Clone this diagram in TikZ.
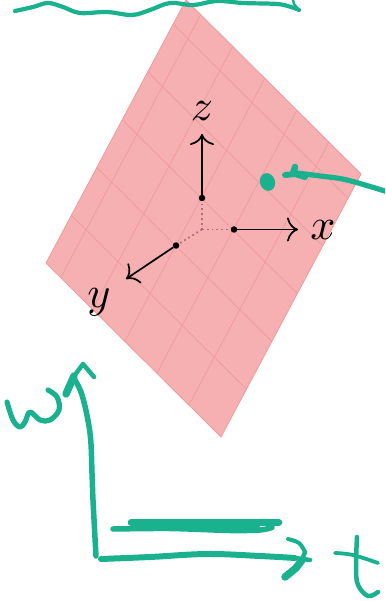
\documentclass[tikz,border=0pt]{standalone}
\usetikzlibrary{arrows.meta,calc}
\definecolor{planefill}{HTML}{F6B0B2}
\definecolor{planeline}{HTML}{F09A9A}
\definecolor{ink}{HTML}{1AB18F}
\definecolor{dotline}{HTML}{B56B72}
\tikzset{
  plane/.style={fill=planefill,draw=planeline,line width=0.8pt,line join=round},
  gridline/.style={draw=planeline,line width=0.7pt},
  axis/.style={draw=black,line width=1.7pt,-{Computer Modern Rightarrow[length=11pt,width=24pt,line width=1.7pt]}},
  origdot/.style={circle,fill=black,inner sep=0pt,minimum size=6.5pt},
  dotted link/.style={draw=dotline,line width=1.8pt,dash pattern=on 1.8pt off 3pt},
  axislabel/.style={scale=4.4,inner sep=0pt},
  pen/.style={draw=ink,line cap=round,line join=round,line width=#1},
  pen/.default=4pt,
}
\begin{document}
\begin{tikzpicture}[x=1pt,y=-1pt]
\useasboundingbox (0,0) rectangle (385,601);
\clip (0,0) rectangle (385,601);
% plane
\coordinate (T) at (186,0);
\coordinate (R) at (361,174);
\coordinate (B) at (221,437);
\coordinate (L) at (46,263);
\fill[plane] (T) -- (R) -- (B) -- (L) -- cycle;
\foreach \k in {1,...,5}{
  \draw[gridline] ($(L)+\k*(25.4,-47.8)$) -- ($(B)+\k*(25.4,-47.8)$);
  \draw[gridline] ($(B)+\k*(-32,-32)$) -- ($(R)+\k*(-32,-32)$);
}
% axes
\coordinate (O) at (202,229.5);
\node[origdot] (dz) at (202,198) {};
\node[origdot] (dx) at (234,229.5) {};
\node[origdot] (dy) at (176,245.5) {};
\coordinate (az) at (202,134);
\coordinate (ax) at (298,229.5);
\coordinate (ay) at (126,279);
\draw[dotted link] (O) -- (dz);
\draw[dotted link] (O) -- (dx);
\draw[dotted link] (O) -- (dy);
\draw[axis] (dz) -- (az);
\draw[axis] (dx) -- (ax);
\draw[axis] (dy) -- (ay);
\node[axislabel] (lz) at (202,111) {$z$};
\node[axislabel] (lx) at (323,230) {$x$};
\node[axislabel] (ly) at (99,302) {$y$};
% top wave
\draw[pen=4.2pt] plot[smooth,tension=0.6] coordinates {(15,11) (33,7) (48,3) (63,7) (80,13) (107,12) (132,15) (150,10) (170,3) (193,5) (217,1) (243,3) (277,4) (291,7) (299,10)};
\draw[pen=2.5pt] (293,0) -- (294,4) -- (299,10);
% pointer
\fill[ink,rotate around={20:(267.5,182)}] (267.5,182) ellipse (7.5pt and 9pt);
\draw[pen=5.2pt] plot[smooth,tension=0.6] coordinates {(388,192) (347,180) (320,176) (297,173)};
\draw[pen=6pt] (285,175) -- (295,174) -- (305,177);
\draw[pen=6.5pt] (295,167) -- (293,174);
% w axis
\draw[pen=5.5pt] plot[smooth,tension=0.6] coordinates {(96,556) (93,500) (92,473) (90,433) (82,395) (73,377)};
\draw[pen=7.5pt] (66,394) -- (74,376);
\draw[pen=4.5pt] (74,376) -- (83,364) -- (94,377);
% w
\draw[pen=5.2pt] plot[smooth,tension=0.6] coordinates {(7,402) (13,420) (20,427) (25,422) (30,412) (40,420) (50,420) (59,410) (57,397) (48,390)};
% bar
\draw[pen=6.5pt] (131,522.5) -- (279,522.5);
\draw[pen=5.5pt] plot[smooth,tension=0.5] coordinates {(113,529) (170,528.5) (230,530.5) (260,530) (272,527.5)};
\draw[pen=4pt] (135,526) -- (258,527);
% t axis
\draw[pen=6pt] plot[smooth,tension=0.6] coordinates {(101,559) (150,557) (207,554) (260,556) (295,558)};
\draw[pen=4.5pt] (295,558) -- (310,560);
\draw[pen=4pt] plot[smooth,tension=0.6] coordinates {(288,539) (299,543) (305,552)};
\draw[pen=4.5pt] (305,552) -- (302,560);
\draw[pen=7.5pt] (302,560) -- (296,568) -- (285,577);
% t
\draw[pen=4.5pt] plot[smooth,tension=0.6] coordinates {(357,537) (356,567) (358,585) (368,596) (378,592)};
\draw[pen=3.8pt] plot[smooth,tension=0.6] coordinates {(335,553) (353,555) (378,563)};
\end{tikzpicture}
\end{document}
